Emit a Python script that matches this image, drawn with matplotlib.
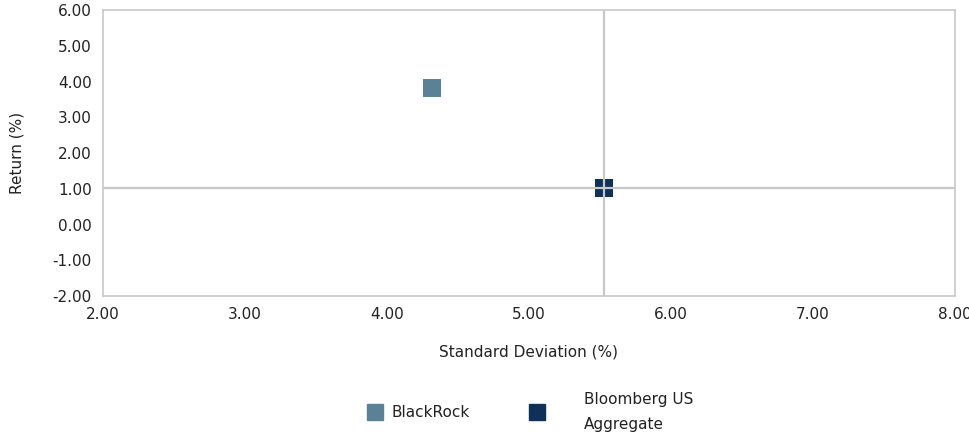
import matplotlib.pyplot as plt
from matplotlib.lines import Line2D

# risk / return data
names = ['BlackRock', 'Bloomberg US\nAggregate']
std_dev = [4.32, 5.53]
returns = [3.82, 1.03]
colors = ['#5a8196', '#0f3057']

plt.rcParams['font.family'] = ['DejaVu Sans']

W, H = 970, 436
fig = plt.figure(figsize=(9.7, 4.36), dpi=100)
ax = fig.add_axes([103 / W, 1 - 296 / H, 852 / W, 286 / H])

# crosshair through the benchmark
ax.axvline(std_dev[1], color='#c8c8c8', lw=1.6, zorder=3)
ax.axhline(returns[1], color='#c8c8c8', lw=1.6, zorder=3)

for x, y, c in zip(std_dev, returns, colors):
    ax.scatter(x, y, marker='s', s=150, color=c, zorder=2, linewidths=0)

ax.set_xlim(2, 8)
ax.set_ylim(-2, 6)
ax.set_xticks(range(2, 9))
ax.set_yticks(range(-2, 7))
ax.xaxis.set_major_formatter(lambda v, p: f'{v:.2f}')
ax.yaxis.set_major_formatter(lambda v, p: f'{v:.2f}')
ax.tick_params(length=0, labelsize=11, colors='#222222', pad=8)
for s in ax.spines.values():
    s.set_color('#c8c8c8')
    s.set_linewidth(1.2)

ax.set_xlabel('Standard Deviation (%)', fontsize=11, color='#222222', labelpad=16)
ax.set_ylabel('Return (%)', fontsize=11, color='#222222', labelpad=20)

# legend drawn by hand: handle x, text x (pixels)
leg_handle_x = [375, 537]
leg_text_x = [392, 584]
leg_y = 1 - 412 / H
for hx, tx, c, n in zip(leg_handle_x, leg_text_x, colors, names):
    fig.add_artist(Line2D([hx / W], [leg_y], marker='s', ls='', color=c,
                          markersize=11, transform=fig.transFigure))
    fig.text(tx / W, leg_y, n, ha='left', va='center', fontsize=11,
             color='#222222', linespacing=1.8)

fig.savefig('out.png', dpi=100)
